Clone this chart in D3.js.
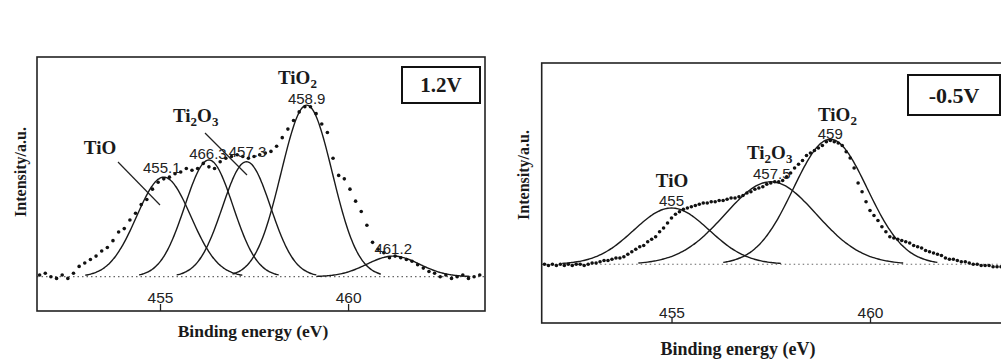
<!DOCTYPE html>
<html>
<head>
<meta charset="utf-8">
<script src="https://cdn.jsdelivr.net/npm/d3@7"></script>
<style>
  html, body { margin: 0; padding: 0; background: #fff; }
  svg { display: block; }
  .num { font-family: "Liberation Sans", Arial, sans-serif; fill: #222; }
  .ser { font-family: "Liberation Serif", "Times New Roman", serif; font-weight: bold; fill: #1a1a1a; }
</style>
</head>
<body>
<svg id="chart" width="1001" height="363"></svg>
<script>
// ---- Ti 2p XPS spectra, two electrode potentials ----

// Panel A (1.2 V): measured intensity on a 0.15 eV grid starting at 451.8 eV
const energyStartA = 451.8, energyStepA = 0.15;
const intensityA = [
  1, 2, 0, -1, 1, -1, 2, 6, 8, 10, 12, 15, 17, 21, 26, 28, 33, 37, 42, 45,
  51, 55, 57, 58, 60, 61, 63, 62, 63, 66, 64, 63, 67, 69, 70, 71, 70, 69, 70, 71,
  72, 73, 76, 81, 86, 91, 96, 99, 99, 95, 89, 84, 69, 59, 57, 51, 44, 38, 30, 20,
  16, 14, 11, 12, 11, 10, 9, 7, 5, 3, 2, 0, 1, -1, 0, 1, -1, 0, 1
];
// Fitted components, panel A
const peakNamesA   = ["TiO", "Ti2O3", "Ti2O3", "TiO2", "sat"];
const peakCentresA = [455.1, 456.3, 457.3, 458.9, 461.2];
const peakHeightsA = [58, 68, 67, 100, 12];
const peakSigmasA  = [0.72, 0.64, 0.64, 0.68, 0.7];
const peakLabelsA  = ["455.1", "466.3", "457.3", "458.9", "461.2"];

// Panel B (-0.5 V): measured intensity on a 0.1 eV grid starting at 451.8 eV
const energyStartB = 451.8, energyStepB = 0.1;
const intensityB = [
  0, -1, 0, -1, 0, -1, 0, -1, 0, 0, -1, 0, 1, 1, 2, 3, 3, 4, 5, 5,
  6, 8, 10, 12, 14, 15, 18, 20, 22, 26, 29, 33, 37, 40, 42, 44, 45, 46, 47, 48,
  49, 49, 50, 50, 51, 51, 52, 53, 53, 54, 55, 57, 58, 60, 61, 62, 64, 65, 66, 66,
  67, 70, 73, 77, 80, 83, 87, 89, 91, 93, 95, 98, 99, 98, 97, 95, 90, 85, 77, 65,
  58, 50, 43, 39, 35, 30, 26, 22, 21, 20, 19, 18, 17, 15, 14, 13, 11, 10, 9, 8,
  7, 5, 4, 4, 3, 2, 2, 1, 0, 0, -1, -1, -1, -2, -2, -2
];
// Fitted components, panel B
const peakNamesB   = ["TiO", "Ti2O3", "TiO2"];
const peakCentresB = [455.0, 457.5, 459.0];
const peakHeightsB = [45, 66, 100];
const peakSigmasB  = [0.95, 1.15, 0.93];
const peakLabelsB  = ["455", "457.5", "459"];

// Axis ticks and texts
const tickValues = [455, 460];
const tickLabels = ["455", "460"];
const xTitle = "Binding energy (eV)";
const yTitle = "Intensity/a.u.";
const conditionA = "1.2V";
const conditionB = "-0.5V";

// ---- layout ----
const panels = [
  {
    start: energyStartA, step: energyStepA, values: intensityA,
    centres: peakCentresA, heights: peakHeightsA, sigmas: peakSigmasA, labels: peakLabelsA,
    xDomain: [451.73, 463.64], yDomain: [-20, 128],
    left: 37, right: 485, top: 57, bottom: 311,
    tickLen: 7, tickLabelDy: -13,
    labelOffsets: [[-2, -9], [-1, -6], [1, -10], [0, -6], [0, -7]],
    condition: conditionA, condBox: [402, 67, 78, 36], condFont: 21,
    species: [
      { parts: [["TiO", 0]], x: 100, y: 154, anchor: "middle" },
      { parts: [["Ti", 0], ["2", 1], ["O", 0], ["3", 1]], x: 173, y: 122, anchor: "start" },
      { parts: [["TiO", 0], ["2", 1]], x: 278, y: 84, anchor: "start" }
    ],
    pointers: [[118, 162, 160, 205], [205, 133, 247, 175]],
    yTitlePos: [20, 172], yTitleSize: 16,
    xTitlePos: [253, 337], xTitleSize: 17.5
  },
  {
    start: energyStartB, step: energyStepB, values: intensityB,
    centres: peakCentresB, heights: peakHeightsB, sigmas: peakSigmasB, labels: peakLabelsB,
    // the frame runs past the right edge of the page
    xDomain: [451.73, 463.35], yDomain: [-47, 161],
    left: 541.7, right: 1003, top: 63, bottom: 323,
    tickLen: 5, tickLabelDy: -10,
    labelOffsets: [[0, -7], [1, -8], [0, -6]],
    condition: conditionB, condBox: [908, 75, 92, 40], condFont: 22,
    species: [
      { parts: [["TiO", 0]], x: 672, y: 187, anchor: "middle" },
      { parts: [["Ti", 0], ["2", 1], ["O", 0], ["3", 1]], x: 747, y: 159, anchor: "start" },
      { parts: [["TiO", 0], ["2", 1]], x: 818, y: 121, anchor: "start" }
    ],
    pointers: [],
    yTitlePos: [523, 175], yTitleSize: 16,
    xTitlePos: [738, 355], xTitleSize: 18
  }
];

const svg = d3.select("#chart");

panels.forEach(p => {
  const x = d3.scaleLinear().domain(p.xDomain).range([p.left, p.right]);
  const y = d3.scaleLinear().domain(p.yDomain).range([p.bottom, p.top]);
  const g = svg.append("g");

  const clipId = "clip" + Math.round(p.left);
  svg.append("clipPath").attr("id", clipId)
    .append("rect").attr("x", p.left).attr("y", p.top)
    .attr("width", p.right - p.left).attr("height", p.bottom - p.top);
  const plot = g.append("g").attr("clip-path", `url(#${clipId})`);

  // dotted zero line
  plot.append("line")
    .attr("x1", p.left).attr("x2", p.right)
    .attr("y1", y(0)).attr("y2", y(0))
    .attr("stroke", "#666").attr("stroke-width", 1.2)
    .attr("stroke-dasharray", "1.5,3");

  // fitted Gaussian components
  const line = d3.line().x(d => x(d[0])).y(d => y(d[1])).curve(d3.curveBasis);
  p.centres.forEach((c, i) => {
    const s = p.sigmas[i], h = p.heights[i];
    const pts = d3.range(c - 2.9 * s, c + 2.9 * s + 1e-9, s / 20)
      .map(e => [e, h * Math.exp(-((e - c) ** 2) / (2 * s * s))]);
    plot.append("path").attr("d", line(pts))
      .attr("fill", "none").attr("stroke", "#1a1a1a").attr("stroke-width", 1.4);
  });

  // measured points
  plot.selectAll("circle.pt").data(p.values).join("circle")
    .attr("class", "pt")
    .attr("cx", (v, i) => x(p.start + i * p.step))
    .attr("cy", v => y(v))
    .attr("r", 1.8).attr("fill", "#111");

  // frame
  g.append("rect")
    .attr("x", p.left).attr("y", p.top)
    .attr("width", p.right - p.left).attr("height", p.bottom - p.top)
    .attr("fill", "none").attr("stroke", "#222").attr("stroke-width", 1.6);

  // bottom axis with inward ticks, labels inside the frame
  const axis = d3.axisBottom(x).tickValues(tickValues)
    .tickFormat((d, i) => tickLabels[i]).tickSize(-p.tickLen).tickSizeOuter(0);
  const ax = g.append("g").attr("transform", `translate(0,${p.bottom})`).call(axis);
  ax.select(".domain").remove();
  ax.selectAll(".tick line").attr("stroke", "#222").attr("stroke-width", 1.3);
  ax.selectAll(".tick text")
    .attr("class", "num").attr("y", p.tickLabelDy).attr("dy", "0.35em")
    .attr("font-size", 15.5).attr("fill", "#222");

  // peak position labels (offsets give the label centre)
  p.labels.forEach((t, i) => {
    g.append("text").attr("class", "num")
      .attr("x", x(p.centres[i]) + p.labelOffsets[i][0])
      .attr("y", y(p.heights[i]) + p.labelOffsets[i][1])
      .attr("dy", "0.35em")
      .attr("text-anchor", "middle").attr("font-size", 15)
      .text(t);
  });

  // species labels with subscripts
  p.species.forEach(sp => {
    const t = g.append("text").attr("class", "ser")
      .attr("x", sp.x).attr("y", sp.y)
      .attr("text-anchor", sp.anchor).attr("font-size", 19);
    sp.parts.forEach(([s, sub]) => {
      const ts = t.append("tspan").text(s);
      if (sub) ts.attr("font-size", 13).attr("dy", 4);
      else if (t.selectAll("tspan").size() > 1) ts.attr("dy", -4);
    });
  });

  // pointer lines
  p.pointers.forEach(([x1, y1, x2, y2]) => {
    g.append("line").attr("x1", x1).attr("y1", y1).attr("x2", x2).attr("y2", y2)
      .attr("stroke", "#222").attr("stroke-width", 1.2);
  });

  // condition box
  const [bx, by, bw, bh] = p.condBox;
  g.append("rect").attr("x", bx).attr("y", by).attr("width", bw).attr("height", bh)
    .attr("fill", "#fff").attr("stroke", "#111").attr("stroke-width", 2);
  g.append("text").attr("class", "ser")
    .attr("x", bx + bw / 2).attr("y", by + bh / 2).attr("dy", "0.35em")
    .attr("text-anchor", "middle").attr("font-size", p.condFont)
    .text(p.condition);

  // axis titles
  g.append("text").attr("class", "ser")
    .attr("transform", `translate(${p.yTitlePos[0]},${p.yTitlePos[1]}) rotate(-90)`)
    .attr("dy", "0.35em").attr("text-anchor", "middle")
    .attr("font-size", p.yTitleSize).text(yTitle);
  g.append("text").attr("class", "ser")
    .attr("x", p.xTitlePos[0]).attr("y", p.xTitlePos[1])
    .attr("text-anchor", "middle").attr("font-size", p.xTitleSize)
    .text(xTitle);
});
</script>
</body>
</html>
